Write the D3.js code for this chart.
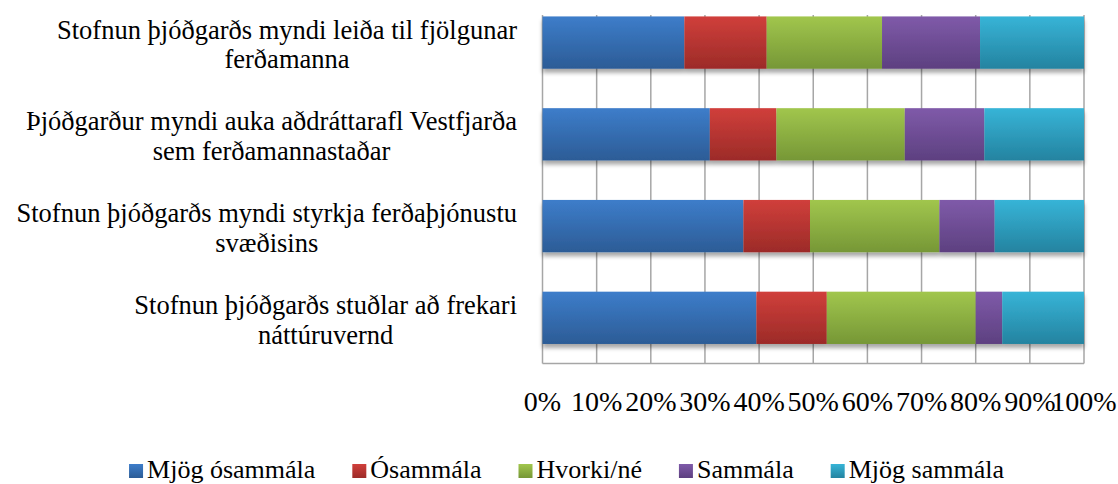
<!DOCTYPE html>
<html>
<head>
  <meta charset="utf-8">
  <title>Þjóðgarður - viðhorf</title>
  <script src="https://d3js.org/d3.v7.min.js"></script>
  <style>
    body { margin: 0; background: #fff; }
  </style>
</head>
<body>
<div id="vis"></div>
<script>
// categories, top to bottom ("\n" = line break in the label)
var categories = [
  "Stofnun þjóðgarðs myndi leiða til fjölgunar\nferðamanna",
  "Þjóðgarður myndi auka aðdráttarafl Vestfjarða\nsem ferðamannastaðar",
  "Stofnun þjóðgarðs myndi styrkja ferðaþjónustu\nsvæðisins",
  "Stofnun þjóðgarðs stuðlar að frekari\nnáttúruvernd"
];
var seriesNames = ["Mjög ósammála", "Ósammála", "Hvorki/né", "Sammála", "Mjög sammála"];
// share (%) per category, one array per series
var mjogOsammala = [26.2, 30.9, 37.1, 39.5];
var osammala     = [15.2, 12.3, 12.3, 13.0];
var hvorki       = [21.3, 23.7, 23.9, 27.5];
var sammala      = [18.1, 14.7, 10.2, 4.9];
var mjogSammala  = [19.2, 18.4, 16.5, 15.1];
var tickValues = [0, 10, 20, 30, 40, 50, 60, 70, 80, 90, 100];

var colorsTop    = ["#3d7dca", "#d03f3b", "#a1c64d", "#7f5aa9", "#37b4d7"];
var colorsBottom = ["#2c5c96", "#9c2b28", "#769736", "#5d4080", "#2483a0"];

var serif = "Liberation Serif";

var width = 1118, height = 484;
var svg = d3.select("#vis").append("svg")
  .attr("width", width).attr("height", height);

var defs = svg.append("defs");
seriesNames.forEach(function (s, i) {
  var g = defs.append("linearGradient").attr("id", "grad" + i)
    .attr("x1", 0).attr("y1", 0).attr("x2", 0).attr("y2", 1);
  g.append("stop").attr("offset", "0%").attr("stop-color", colorsTop[i]);
  g.append("stop").attr("offset", "100%").attr("stop-color", colorsBottom[i]);
});
var shadow = defs.append("filter").attr("id", "shadow")
  .attr("x", "-5%").attr("y", "-20%").attr("width", "110%").attr("height", "150%");
shadow.append("feGaussianBlur").attr("in", "SourceAlpha").attr("stdDeviation", 2).attr("result", "b");
shadow.append("feOffset").attr("in", "b").attr("dy", 4).attr("result", "o");
shadow.append("feComponentTransfer").attr("in", "o").attr("result", "s")
  .append("feFuncA").attr("type", "linear").attr("slope", 0.35);
var merge = shadow.append("feMerge");
merge.append("feMergeNode").attr("in", "s");
merge.append("feMergeNode").attr("in", "SourceGraphic");

// build the stacked table
var seriesArrays = [mjogOsammala, osammala, hvorki, sammala, mjogSammala];
var table = categories.map(function (c, i) {
  var row = { cat: c };
  seriesNames.forEach(function (s, j) { row[s] = seriesArrays[j][i]; });
  return row;
});
var stacked = d3.stack().keys(seriesNames)
  .offset(d3.stackOffsetExpand)(table);

var plotLeft = 542.5, plotRight = 1084, plotTop = 15, plotBottom = 363.5;
var x = d3.scaleLinear().domain([0, 1]).range([plotLeft, plotRight]);
var y = d3.scaleBand().domain(categories)
  .range([-3.3, 363.7]).paddingInner(0.43).paddingOuter(0.215);

// gridlines
svg.append("g").selectAll("line")
  .data(tickValues)
  .enter().append("line")
  .attr("x1", function (d) { return x(d / 100); })
  .attr("x2", function (d) { return x(d / 100); })
  .attr("y1", plotTop).attr("y2", plotBottom)
  .attr("stroke", "#a6a6a6").attr("stroke-width", 1.5);
svg.append("line")
  .attr("x1", plotLeft).attr("x2", plotRight)
  .attr("y1", plotBottom).attr("y2", plotBottom)
  .attr("stroke", "#a6a6a6").attr("stroke-width", 1.5);

// bars
var barG = svg.append("g").attr("filter", "url(#shadow)");
barG.selectAll("g.series")
  .data(stacked)
  .enter().append("g").attr("class", "series")
  .attr("fill", function (d, i) { return "url(#grad" + i + ")"; })
  .selectAll("rect")
  .data(function (d) { return d; })
  .enter().append("rect")
  .attr("x", function (d) { return x(d[0]); })
  .attr("width", function (d) { return x(d[1]) - x(d[0]); })
  .attr("y", function (d) { return y(d.data.cat); })
  .attr("height", y.bandwidth());

// x tick labels
svg.append("g").selectAll("text")
  .data(tickValues)
  .enter().append("text")
  .attr("x", function (d) { return x(d / 100); })
  .attr("y", 411)
  .attr("text-anchor", "middle")
  .style("font-family", serif)
  .style("font-size", "28px")
  .text(function (d) { return d + "%"; });

// category labels (lines centred, block right-aligned)
var labelRight = 517;
categories.forEach(function (c) {
  var lines = c.split("\n");
  var cy = y(c) + y.bandwidth() / 2;
  var g = svg.append("g");
  var texts = lines.map(function (l, k) {
    return g.append("text")
      .attr("y", cy - 4 + k * 29.7)
      .attr("text-anchor", "middle")
      .style("font-family", serif)
      .style("font-size", "26.5px")
      .text(l);
  });
  var maxW = d3.max(texts, function (t) { return t.node().getComputedTextLength(); });
  texts.forEach(function (t) { t.attr("x", labelRight - maxW / 2); });
});

// legend
var legend = svg.append("g");
var items = seriesNames.map(function (s, i) {
  var g = legend.append("g");
  g.append("rect").attr("width", 14).attr("height", 14).attr("y", -14)
    .attr("fill", "url(#grad" + i + ")");
  var t = g.append("text").attr("x", 18).attr("y", 0)
    .style("font-family", serif)
    .style("font-size", "26px").text(s);
  return { g: g, w: 18 + t.node().getComputedTextLength() };
});
var gap = 37;
var total = d3.sum(items, function (d) { return d.w; }) + gap * (items.length - 1);
var lx = 566.5 - total / 2;
items.forEach(function (it) {
  it.g.attr("transform", "translate(" + lx + ",478)");
  lx += it.w + gap;
});
</script>
</body>
</html>
